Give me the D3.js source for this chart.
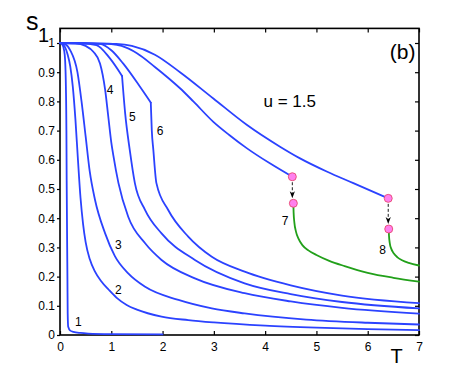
<!DOCTYPE html>
<html>
<head>
<meta charset="utf-8">
<script src="https://cdn.jsdelivr.net/npm/d3@7"></script>
<style>
  body { margin: 0; background: #fff; }
  svg { display: block; font-family: "Liberation Sans", Arial, sans-serif; }
</style>
</head>
<body>
<div class="chart"></div>
<script>
// data: [T, s1]
const curve1 = [[0,1],[0.04,0.996],[0.08,0.975],[0.1,0.94],[0.115,0.85],[0.125,0.7],[0.13,0.53],[0.14,0.3],[0.145,0.19],[0.15,0.074],[0.16,0.028],[0.2,0.015],[0.26,0.011],[0.4,0.007],[0.55,0.005],[1,0.003],[2,0.002]];
const curve2 = [[0,1],[0.05,0.997],[0.1,0.985],[0.15,0.96],[0.2,0.92],[0.25,0.85],[0.3,0.74],[0.35,0.6],[0.4,0.47],[0.45,0.38],[0.5,0.318],[0.58,0.26],[0.68,0.218],[0.8,0.185],[0.95,0.155],[1.1,0.128],[1.3,0.103],[1.5,0.087],[1.98,0.063],[2.5,0.051],[3,0.043],[4,0.032],[5,0.025],[6,0.02],[7,0.017]];
const curve3 = [[0,1],[0.1,0.996],[0.2,0.975],[0.34,0.9],[0.42,0.8],[0.5,0.68],[0.58,0.56],[0.68,0.465],[0.88,0.348],[1.07,0.27],[1.33,0.211],[1.66,0.165],[2.31,0.12],[2.96,0.091],[3.6,0.074],[4.8,0.053],[6,0.042],[7,0.036]];
const curve4 = [[0,1],[0.3,0.999],[0.5,0.99],[0.65,0.97],[0.78,0.93],[0.88,0.84],[0.94,0.75],[1.0,0.66],[1.04,0.615],[1.14,0.52],[1.33,0.405],[1.66,0.314],[1.98,0.257],[2.63,0.194],[3.6,0.143],[4.5,0.115],[5.5,0.093],[7,0.073]];
const curve5a = [[0,1],[0.4,0.999],[0.71,0.993],[0.97,0.948],[1.21,0.887]];
const curve5b = [[1.21,0.887],[1.27,0.76],[1.36,0.634],[1.46,0.52],[1.66,0.428],[1.98,0.348],[2.63,0.257],[3.6,0.177],[4.5,0.14],[5.5,0.113],[7,0.091]];
const curve6a = [[0,1],[0.5,0.999],[0.78,0.997],[1.0,0.975],[1.23,0.93],[1.56,0.85],[1.77,0.796]];
const curve6b = [[1.77,0.796],[1.79,0.7],[1.82,0.634],[1.88,0.52],[2.11,0.428],[2.5,0.337],[2.96,0.268],[3.6,0.217],[4.5,0.17],[5.5,0.135],[7,0.109]];
const curve7up = [[0,1],[0.6,0.999],[1.0,0.996],[1.2,0.99],[1.5,0.965],[1.85,0.918],[2.1,0.882],[2.34,0.845],[2.6,0.8],[2.99,0.73],[3.3,0.685],[3.64,0.64],[4.1,0.587],[4.53,0.542]];
const curve7low = [[4.55,0.451],[4.555,0.42],[4.57,0.385],[4.6,0.355],[4.65,0.33],[4.73,0.307],[4.85,0.289],[5.0,0.274],[5.25,0.254],[5.55,0.236],[6.0,0.213],[6.5,0.196],[7,0.183]];
const curve8up = [[0,1],[0.7,0.999],[1.1,0.997],[1.4,0.99],[1.85,0.96],[2.34,0.9],[2.99,0.81],[3.64,0.72],[4.29,0.645],[4.68,0.605],[5.2,0.56],[5.72,0.52],[6.4,0.468]];
const curve8low = [[6.41,0.363],[6.415,0.34],[6.43,0.315],[6.46,0.295],[6.51,0.279],[6.58,0.266],[6.67,0.256],[6.8,0.247],[7,0.238]];

// jumps: upper point -> lower point
const jumps = [[[4.53,0.542],[4.55,0.451]], [[6.4,0.468],[6.41,0.363]]];

// curve labels: [text, T, s]
const curveLabels = [["1",0.357,0.046],["2",1.137,0.154],["3",1.137,0.308],["4",0.975,0.839],["5",1.41,0.748],["6",1.95,0.699],["7",4.39,0.391],["8",6.29,0.291]];

const xTicks = [0,1,2,3,4,5,6,7];
const yTicks = [0,0.1,0.2,0.3,0.4,0.5,0.6,0.7,0.8,0.9,1];

const blue = "#2b42ff", green = "#22a01a";

var width = 463, height = 377;
var margin = ({top: 28.4, right: 44, bottom: 42, left: 60});

let x = d3.scaleLinear()
    .domain([0, 7])
    .range([margin.left, width - margin.right]);

let y = d3.scaleLinear()
    .domain([0, 1.05])
    .range([height - margin.bottom, margin.top]);

const svg = d3.select(".chart").append("svg")
    .attr("width", width)
    .attr("height", height);

// axes, MATLAB-style box
svg.append("g")
    .attr("transform", `translate(0,${height - margin.bottom})`)
    .call(d3.axisBottom(x).tickValues(xTicks).tickFormat(d => String(d)).tickSizeInner(-4).tickSizeOuter(0).tickPadding(7))
    .call(g => g.select(".domain").remove());

svg.append("g")
    .attr("transform", `translate(${margin.left},0)`)
    .call(d3.axisLeft(y).tickValues(yTicks).tickFormat(d => String(d)).tickSizeInner(3).tickSizeOuter(0).tickPadding(2))
    .call(g => g.select(".domain").remove());

svg.append("g")
    .attr("transform", `translate(0,${margin.top})`)
    .call(d3.axisTop(x).tickValues(xTicks).tickFormat("").tickSizeInner(-4).tickSizeOuter(0))
    .call(g => g.select(".domain").remove());

svg.append("g")
    .attr("transform", `translate(${width - margin.right},0)`)
    .call(d3.axisRight(y).tickValues(yTicks).tickFormat("").tickSizeInner(-4).tickSizeOuter(0))
    .call(g => g.select(".domain").remove());

svg.selectAll(".tick line").attr("stroke", "#000").attr("stroke-width", 1.2);
svg.selectAll(".tick text").attr("font-size", 12).attr("fill", "#000")
    .attr("font-family", "Liberation Sans, Arial, sans-serif");

svg.append("rect")
    .attr("x", x(0)).attr("y", y(1.05))
    .attr("width", x(7) - x(0)).attr("height", y(0) - y(1.05))
    .attr("fill", "none").attr("stroke", "#000").attr("stroke-width", 1.6);

// curves
let line = d3.line()
    .x(d => x(d[0]))
    .y(d => y(d[1]))
    .curve(d3.curveMonotoneX);

const series = [
    {pts: curve1, c: blue}, {pts: curve2, c: blue}, {pts: curve3, c: blue},
    {pts: curve4, c: blue}, {pts: curve5a, c: blue}, {pts: curve5b, c: blue},
    {pts: curve6a, c: blue}, {pts: curve6b, c: blue},
    {pts: curve7up, c: blue}, {pts: curve8up, c: blue},
    {pts: curve7low, c: green}, {pts: curve8low, c: green}
];

svg.append("g")
    .attr("fill", "none")
    .attr("stroke-width", 1.8)
    .attr("stroke-linejoin", "round")
    .attr("stroke-linecap", "round")
    .selectAll("path")
    .data(series)
    .join("path")
    .attr("d", d => line(d.pts))
    .attr("stroke", d => d.c);

// jump arrows
const arrows = svg.append("g");
jumps.forEach(j => {
    const cx = x(j[0][0]);
    const y0 = y(j[0][1]) + 5.5, tip = y(j[1][1]) - 5;
    arrows.append("line")
        .attr("x1", cx).attr("x2", cx)
        .attr("y1", y0).attr("y2", tip - 5)
        .attr("stroke", "#000").attr("stroke-width", 0.9)
        .attr("stroke-dasharray", "3,2");
    arrows.append("path")
        .attr("d", `M${cx},${tip} L${cx - 2.6},${tip - 7} L${cx},${tip - 5} L${cx + 2.6},${tip - 7} Z`)
        .attr("fill", "#000");
});

// markers
svg.append("g")
    .selectAll("circle")
    .data(jumps.flat())
    .join("circle")
    .attr("cx", d => x(d[0]))
    .attr("cy", d => y(d[1]))
    .attr("r", 4)
    .attr("fill", "#ff80ee")
    .attr("stroke", "#e84a72")
    .attr("stroke-width", 0.9);

// labels
svg.append("g")
    .selectAll("text")
    .data(curveLabels)
    .join("text")
    .attr("x", d => x(d[1]))
    .attr("y", d => y(d[2]))
    .attr("dy", "0.35em")
    .attr("text-anchor", "middle")
    .attr("font-size", 12)
    .text(d => d[0]);

svg.append("text")
    .attr("x", x(4.48)).attr("y", y(0.781))
    .attr("text-anchor", "middle")
    .attr("font-size", 17)
    .text("u = 1.5");

svg.append("text")
    .attr("x", x(6.93)).attr("y", y(0.945))
    .attr("text-anchor", "end")
    .attr("font-size", 21)
    .text("(b)");

svg.append("text")
    .attr("x", 26).attr("y", 29.5)
    .attr("font-size", 25)
    .text("s");
svg.append("text")
    .attr("x", 38).attr("y", 41.5)
    .attr("font-size", 20)
    .text("1");

svg.append("text")
    .attr("x", 396.7).attr("y", 362.7)
    .attr("text-anchor", "middle")
    .attr("font-size", 20)
    .text("T");
</script>
</body>
</html>
